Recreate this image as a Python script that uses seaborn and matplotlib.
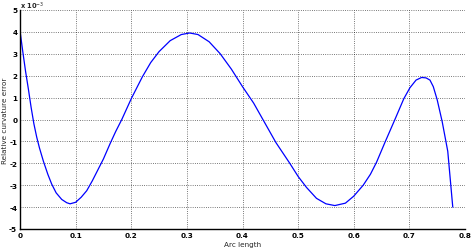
import matplotlib
matplotlib.use("Agg")
import matplotlib.pyplot as plt
import seaborn as sns
import pandas as pd

# Arc length and relative curvature error (values in units of 1e-3)
arc_length = [0.000, 0.005, 0.010, 0.015, 0.020, 0.025, 0.030, 0.035, 0.042, 0.050,
              0.057, 0.065, 0.075, 0.084, 0.090, 0.100, 0.110, 0.120, 0.130, 0.140,
              0.150, 0.162, 0.172, 0.183, 0.200, 0.220, 0.235, 0.250, 0.270, 0.290,
              0.305, 0.320, 0.340, 0.360, 0.380, 0.400, 0.420, 0.440, 0.460, 0.485,
              0.500, 0.515, 0.533, 0.550, 0.566, 0.585, 0.600, 0.617, 0.630, 0.641,
              0.656, 0.674, 0.690, 0.701, 0.712, 0.722, 0.730, 0.737, 0.743, 0.750,
              0.759, 0.769, 0.778]
curv_error = [4.05, 3.1, 2.2, 1.4, 0.55, -0.2, -0.8, -1.3, -1.9, -2.5,
              -2.95, -3.35, -3.65, -3.8, -3.85, -3.78, -3.55, -3.25, -2.8, -2.3,
              -1.8, -1.1, -0.55, 0.0, 0.95, 1.95, 2.6, 3.1, 3.6, 3.88,
              3.95, 3.88, 3.55, 3.0, 2.3, 1.5, 0.75, -0.15, -1.05, -2.0,
              -2.6, -3.1, -3.6, -3.85, -3.93, -3.82, -3.5, -3.0, -2.5, -1.95,
              -1.05, 0.0, 0.95, 1.45, 1.8, 1.92, 1.9, 1.8, 1.5, 0.9,
              -0.1, -1.45, -4.0]

df = pd.DataFrame({"arc": arc_length, "err": curv_error})

sns.set_style("white")
plt.rcParams['font.family'] = ['DejaVu Sans']

W, H = 472, 251
fig = plt.figure(figsize=(W / 100, H / 100), dpi=100)
ax_l, ax_r, ax_t, ax_b = 20, 465, 11, 230
ax = fig.add_axes([ax_l / W, 1 - ax_b / H, (ax_r - ax_l) / W, (ax_b - ax_t) / H])

sns.lineplot(data=df, x="arc", y="err", ax=ax, color=(0, 0, 1), linewidth=0.9,
             sort=False)

ax.set_xlim(0, 0.8)
ax.set_ylim(-5, 5)
ax.set_xticks([0, 0.1, 0.2, 0.3, 0.4, 0.5, 0.6, 0.7, 0.8])
ax.set_xticklabels(["0", "0.1", "0.2", "0.3", "0.4", "0.5", "0.6", "0.7", "0.8"])
ax.set_yticks([-5, -4, -3, -2, -1, 0, 1, 2, 3, 4, 5])
ax.set_yticklabels([str(v) for v in [-5, -4, -3, -2, -1, 0, 1, 2, 3, 4, 5]])

ax.grid(True, linestyle=':', color='black', linewidth=0.6, alpha=0.7)
for s in ["top", "right"]:
    ax.spines[s].set_visible(False)
for s in ["left", "bottom"]:
    ax.spines[s].set_color("black")
    ax.spines[s].set_linewidth(1.0)

ax.tick_params(direction='in', length=3, width=0.8, labelsize=5.2, pad=2,
               colors='black')
for lbl in ax.get_xticklabels() + ax.get_yticklabels():
    lbl.set_fontweight('bold')

ax.set_xlabel("Arc length", fontsize=5.2, va='center')
ax.xaxis.set_label_coords(0.5, -(245 - ax_b) / (ax_b - ax_t))
ax.set_ylabel("Relative curvature error", fontsize=5.2, va='center')
ax.yaxis.set_label_coords(-(ax_l - 5) / (ax_r - ax_l), 0.5)
ax.text(0.0, 1.006, r"x 10$^{-3}$", transform=ax.transAxes, fontsize=4.8,
        fontweight='bold', ha='left', va='baseline')

fig.savefig("out.png", dpi=100)
